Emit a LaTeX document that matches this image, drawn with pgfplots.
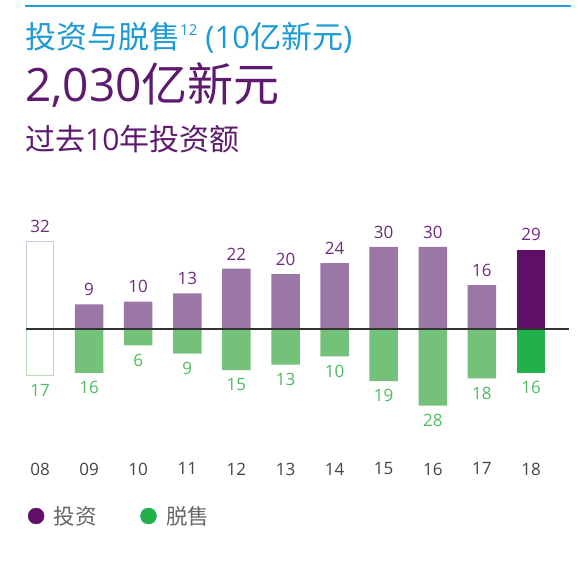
\documentclass[border=0pt]{standalone}
\usepackage{pgfplots}
\pgfplotsset{compat=1.18}
\usepackage{fontspec}
\setmainfont{Open Sans}
\newfontfamily\cjk{Noto Sans CJK SC}
\definecolor{titleblue}{HTML}{1B9AD6}
\definecolor{lineblue}{HTML}{1CA0E0}
\definecolor{headpurple}{HTML}{5E1A6E}
\definecolor{barpurple}{HTML}{9B77A6}
\definecolor{bargreen}{HTML}{74C27A}
\definecolor{darkpurple}{HTML}{5E1066}
\definecolor{darkgreen}{HTML}{22B04B}
\definecolor{lblpurple}{HTML}{6E2C7E}
\definecolor{lblgreen}{HTML}{4DBB5F}
\definecolor{outpurple}{HTML}{D5C4DB}
\definecolor{outgreen}{HTML}{B5DFBA}
\definecolor{zeroline}{HTML}{333333}
\definecolor{ticklbl}{HTML}{444444}
\definecolor{legtext}{HTML}{666666}
\begin{document}
\begin{tikzpicture}[x=1pt,y=1pt]
\useasboundingbox (0,0) rectangle (587,571);
\draw[lineblue, line width=1.5pt] (25,565) -- (570.7,565);
\node[anchor=base west, inner sep=0pt, text=titleblue, font=\fontsize{31}{35}\selectfont] at (25,522)
  {{\cjk 投资与脱售}\raisebox{0.42em}{\fontsize{15}{17}\selectfont 12} (10{\cjk 亿新元})};
\node[anchor=base west, inner sep=0pt, text=headpurple, font=\fontsize{46}{52}\selectfont] at (25,469.3)
  {2,030{\cjk 亿新元}};
\node[anchor=base west, inner sep=0pt, text=headpurple, font=\fontsize{30}{34}\selectfont] at (25,420.3)
  {{\cjk 过去}10{\cjk 年投资额}};
\begin{axis}[
  at={(15.45pt,118.7pt)}, anchor=south west,
  scale only axis, width=559.74pt, height=219.2pt,
  xmin=-0.5, xmax=10.9, ymin=-45, ymax=35,
  axis line style={draw=none},
  major tick length=0pt,
  ytick=\empty,
  /pgf/number format/assume math mode=true,
  xtick={0,1,2,3,4,5,6,7,8,9,10},
  xticklabels={08,09,10,11,12,13,14,15,16,17,18},
  xticklabel style={text=ticklbl, font=\fontsize{17}{20}\selectfont, yshift=-7pt},
  clip=false,
  ybar, bar width=28.5pt,
  nodes near coords={\pgfkeys{/pgf/fpu=true,/pgf/fpu/output format=fixed}\pgfmathparse{abs(\pgfplotspointmeta)}\pgfmathprintnumber[assume math mode=true]{\pgfmathresult}},
  every node near coord/.append style={font=\fontsize{17}{20}\selectfont, inner ysep=8.3pt},
  legend style={draw=none, fill=none, inner sep=0pt, at={(axis description cs:0,0)}, anchor=west,
    xshift=12.25pt, yshift=-63.7pt, font=\fontsize{21.5}{24}\selectfont, text=legtext,
    /tikz/every odd column/.append style={column sep=7.5pt},
    /tikz/every even column/.append style={column sep=41.5pt}},
  legend columns=2,
]
% investments 09-17
\addplot[forget plot, bar shift=0pt, fill=barpurple, draw=none, every node near coord/.append style={text=lblpurple}]
  coordinates {(1,9) (2,10) (3,13) (4,22) (5,20) (6,24) (7,30) (8,30) (9,16)};
% investment 08
\addplot[forget plot, bar shift=0pt, fill=white, draw=outpurple, line width=1pt, bar width=27.5pt, every node near coord/.append style={text=lblpurple}]
  coordinates {(0,32)};
% investment 18
\addplot[forget plot, bar shift=0pt, fill=darkpurple, draw=none, every node near coord/.append style={text=lblpurple}]
  coordinates {(10,29)};
% divestments 09-17
\addplot[forget plot, bar shift=0pt, fill=bargreen, draw=none, every node near coord/.append style={text=lblgreen}]
  coordinates {(1,-16) (2,-6) (3,-9) (4,-15) (5,-13) (6,-10) (7,-19) (8,-28) (9,-18)};
% divestment 08
\addplot[forget plot, bar shift=0pt, fill=white, draw=outgreen, line width=1pt, bar width=27.5pt, every node near coord/.append style={text=lblgreen}]
  coordinates {(0,-17)};
% divestment 18
\addplot[forget plot, bar shift=0pt, fill=darkgreen, draw=none, every node near coord/.append style={text=lblgreen}]
  coordinates {(10,-16)};
% zero line
\addplot[forget plot, sharp plot, nodes near coords={}, line width=1.3pt, color=zeroline, mark=none]
  coordinates {(-0.285,0) (10.774,0)};
\addlegendimage{legend image code/.code={\fill[darkpurple] (8pt,0pt) circle (8pt);}}
\addlegendentry{\cjk 投资}
\addlegendimage{legend image code/.code={\fill[darkgreen] (8pt,0pt) circle (8pt);}}
\addlegendentry{\cjk 脱售}
\end{axis}
\end{tikzpicture}
\end{document}
